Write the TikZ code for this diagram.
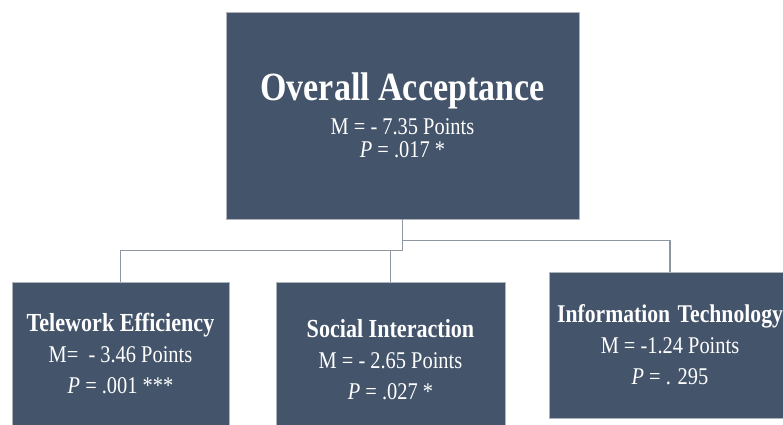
\documentclass[tikz,border=0pt]{standalone}
\usepackage{fontspec}
\newfontfamily\boxfont{Liberation Serif}[FakeStretch=0.85]
\definecolor{slate}{HTML}{44546A}
\definecolor{rim}{HTML}{AEB4BC}
\definecolor{wire}{HTML}{8E96A1}

\begin{document}
\begin{tikzpicture}[x=1pt,y=1pt,
    factor/.style={draw=rim, line width=0.8pt, fill=slate, text=white, align=center,
      inner sep=0pt, font={\boxfont\fontsize{24}{31}\selectfont\lineskiplimit=-\maxdimen}},
    link/.style={draw=wire, line width=1.4pt}]
  \useasboundingbox (0,0) rectangle (783,424);
  \clip (0,0) rectangle (783,424);

  \node[factor, minimum width=353pt, minimum height=207pt,
    font={\boxfont\fontsize{24}{23}\selectfont\lineskiplimit=-\maxdimen}]
    (overall) at (402.5,308.5)
    {{\bfseries\fontsize{40}{23}\selectfont Overall Acceptance}\\[11pt]
     M = - 7.35 Points\\ \textit{P} = .017 *};

  \node[factor, minimum width=217pt, minimum height=144pt] (tele) at (120.5,70)
    {{\bfseries\fontsize{26}{31}\selectfont Telework Efficiency}\\
     M=~~- 3.46 Points\\ \textit{P} = .001 ***};
  \node[factor, minimum width=229pt, minimum height=155pt] (social) at (390.5,64.5)
    {{\bfseries\fontsize{26}{31}\selectfont Social Interaction}\\
     M = - 2.65 Points\\ \textit{P} = .027 *};
  \node[factor, minimum width=242pt, minimum height=146pt] (info) at (670,79)
    {{\bfseries\fontsize{25.5}{31}\selectfont Information\hspace{2pt} Technology}\\
     M = -1.24 Points\\ \textit{P} = . 295};

  \draw[link] (overall.south) -- ++(0,-31) -| (tele.north);
  \draw[link] (overall.south) ++(0,-31) -| (social.north);
  \draw[link] (overall.south) ++(0,-21) -| (info.north);
\end{tikzpicture}
\end{document}
